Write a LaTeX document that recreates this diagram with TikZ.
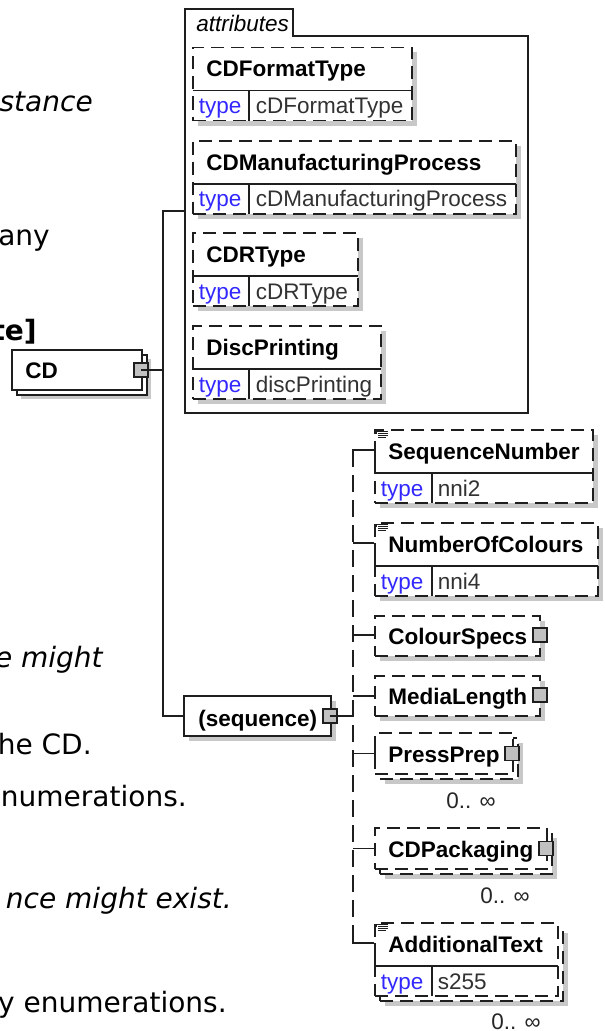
\documentclass[tikz,border=0pt]{standalone}
\usepackage{fontspec}
\setmainfont{Liberation Sans}
\newfontfamily\docfont{DejaVu Sans}
\usetikzlibrary{fit}
\definecolor{shadowgrey}{RGB}{200,200,200}
\definecolor{typeblue}{RGB}{50,40,255}
\definecolor{valgrey}{RGB}{50,50,50}
\definecolor{portgrey}{RGB}{192,192,192}
\definecolor{linecol}{RGB}{30,30,30}
\tikzset{
  conn/.style={draw=linecol, line width=1.3pt},
  dconn/.style={conn, dash pattern=on 12.75pt off 6pt},
  box/.style={draw=linecol, line width=1.3pt, fill=white, inner sep=0pt},
  optbox/.style={box, dash pattern=on 9.75pt off 5.25pt},
  elname/.style={font=\bfseries\fontsize{16.875pt}{20pt}\selectfont, anchor=base west, inner sep=0pt},
  tabsty/.style={font=\itshape\fontsize{16.875pt}{20pt}\selectfont, anchor=base west, inner sep=0pt},
  tlabel/.style={font=\fontsize{16.875pt}{20pt}\selectfont, text=typeblue, anchor=base west, inner sep=0pt},
  tval/.style={font=\fontsize{16.875pt}{20pt}\selectfont, text=valgrey, anchor=base west, inner sep=0pt},
  occ/.style={font=\fontsize{16.875pt}{20pt}\selectfont, text=black!85, anchor=base east, inner sep=0pt},
  doc/.style={font=\docfont\fontsize{21pt}{25pt}\selectfont, anchor=base east, inner sep=0pt},
  docit/.style={font=\docfont\itshape\fontsize{21pt}{25pt}\selectfont, anchor=base east, inner sep=0pt},
  docbf/.style={font=\docfont\bfseries\fontsize{21pt}{25pt}\selectfont, anchor=base east, inner sep=0pt},
  port/.style={draw=linecol, line width=0.9pt, fill=portgrey, inner sep=0pt},
  icon/.style={draw=linecol, line width=0.5pt},
}
% attribute box: id, top, right, name, value
\newcommand\mkattr[5]{%
  \fill[shadowgrey] (198,{#2+5}) rectangle ({#3+5},{#2+78});
  \node[optbox, fit={(193,#2) (#3,{#2+73})}] (#1) {};
  \draw[conn] (193,{#2+43}) -- (#3,{#2+43});
  \draw[conn] (249,{#2+43}) -- (249,{#2+73});
  \node[elname] (#1n) at (206,{#2+29.5}) {#4};
  \node[tlabel] (#1t) at (198.5,{#2+66}) {type};
  \node[tval] (#1v) at (255.5,{#2+66}) {#5};
}
% typed sequence element: id, top, right, name, value
\newcommand\mktyped[5]{%
  \fill[shadowgrey] (380,{#2+5}) rectangle ({#3+5},{#2+78});
  \node[optbox, fit={(375,#2) (#3,{#2+73})}] (#1) {};
  \draw[conn] (375,{#2+43}) -- (#3,{#2+43});
  \draw[conn] (432,{#2+43}) -- (432,{#2+73});
  \draw[conn] (375,{#2+20}) -- (375,{#2+43});
  \draw[icon] (376,{#2+1}) -- (376,{#2+4});
  \draw[icon] (376,{#2+1}) -- (388,{#2+1});
  \draw[icon] (378,{#2+3}) -- (388,{#2+3});
  \draw[icon] (378,{#2+5}) -- (388,{#2+5});
  \draw[icon] (378,{#2+7}) -- (386,{#2+7});
  \node[elname] (#1n) at (388,{#2+29.5}) {#4};
  \node[tlabel] (#1t) at (380.5,{#2+66}) {type};
  \node[tval] (#1v) at (437.5,{#2+66}) {#5};
}
% single element with children: id, top, right, name
\newcommand\mksingle[4]{%
  \fill[shadowgrey] (380,{#2+5}) rectangle ({#3+5},{#2+45});
  \node[optbox, fit={(375,#2) (#3,{#2+40})}] (#1) {};
  \draw[conn] (375,{#2+13}) -- (375,{#2+23});
  \node[elname] (#1n) at (388,{#2+28.5}) {#4};
  \node[port, fit={({#3-7},{#2+12}) ({#3+7},{#2+26})}] (#1p) {};
}
% repeated element with children: id, top, right, name
\newcommand\mkmulti[4]{%
  \fill[shadowgrey] (385,{#2+10}) rectangle ({#3+10},{#2+51});
  \node[optbox, fit={(380,{#2+5}) ({#3+5},{#2+46})}] (#1b) {};
  \node[optbox, fit={(375,#2) (#3,{#2+41})}] (#1) {};
  \draw[conn] (375,{#2+15}) -- (375,{#2+26});
  \node[elname] (#1n) at (388,{#2+29}) {#4};
  \node[port, fit={({#3-8},{#2+13.5}) ({#3+6},{#2+27.5})}] (#1p) {};
  \node[occ] (#1o) at ({#3-17},{#2+75.5}) {0.. ∞};
}
\begin{document}
\begin{tikzpicture}[x=0.75pt,y=-0.75pt]
\useasboundingbox (0,0) rectangle (604,1031);
\clip (0,0) rectangle (604,1031);
\fill[white] (0,0) rectangle (604,1031);

% cut-off document text on the left
\node[docit] (d1) at (93,111) {stance};
\node[doc] (d2) at (50,245) {any};
\node[docbf] (d3) at (37,340) {te]};
\node[docit] (d4) at (103,667) {e might};
\node[doc] (d5) at (92,754) {he CD.};
\node[doc] (d6) at (187,806) {numerations.};
\node[docit] (d7) at (232,908) {nce might exist.};
\node[doc] (d8) at (227,1012) {y enumerations.};

% attributes container
\draw[conn, fill=white] (185,413) -- (185,9) -- (293,9) -- (293,36) -- (528,36) -- (528,413) -- cycle;
\node[fit={(185,9) (528,413)}, inner sep=0pt] (attr) {};
\node[tabsty] (attrlbl) at (196,32) {attributes};
\mkattr{a1}{47.5}{412}{CDFormatType}{cDFormatType}
\mkattr{a2}{140.7}{516}{CDManufacturingProcess}{cDManufacturingProcess}
\mkattr{a3}{233}{358}{CDRType}{cDRType}
\mkattr{a4}{326}{381}{DiscPrinting}{discPrinting}

% CD element (repeated)
\fill[shadowgrey] (21,359) rectangle (151,399);
\node[box, fit={(17,355) (147,395)}] (cdb) {};
\node[box, fit={(12,350) (142,390)}] (cd) {};
\node[elname] (cdn) at (25,378) {CD};
\node[port, fit={(134,363) (148,377)}] (cdport) {};

% sequence compositor
\fill[shadowgrey] (189,701) rectangle (336,741);
\node[box, fit={(184,696) (331,736)}] (seq) {};
\node[elname] (seqn) at (198,726.5) {(sequence)};
\node[port, fit={(323,709) (337,723)}] (seqport) {};

% children of the sequence
\mktyped{sn}{430}{593}{SequenceNumber}{nni2}
\mktyped{noc}{523}{598}{NumberOfColours}{nni4}
\mksingle{cs}{616}{540}{ColourSpecs}
\mksingle{ml}{676}{540}{MediaLength}
\mkmulti{pp}{733}{513}{PressPrep}
\mkmulti{cdp}{828}{547}{CDPackaging}
% AdditionalText (repeated, typed)
\fill[shadowgrey] (385,933) rectangle (568,1006);
\node[optbox, fit={(380,928) (563,1001)}] (atb) {};
\node[optbox, fit={(375,923) (558,996)}] (at) {};
\draw[conn] (375,966) -- (558,966);
\draw[conn] (432,966) -- (432,996);
\draw[conn] (375,943) -- (375,966);
\draw[icon] (376,924) -- (376,927);
\draw[icon] (376,924) -- (388,924);
\draw[icon] (378,926) -- (388,926);
\draw[icon] (378,928) -- (388,928);
\draw[icon] (378,930) -- (386,930);
\node[elname] (atn) at (388,952.5) {AdditionalText};
\node[tlabel] (att) at (380.5,989) {type};
\node[tval] (atv) at (437.5,989) {s255};
\node[occ] (ato) at (541,1029) {0.. ∞};

% connectors of CD
\coordinate (jtop) at (163,211);
\coordinate (jcd) at (163,370);
\coordinate (jseq) at (163,716);
\draw[conn] (attr.west) -- (jtop) -- (jseq) -- (seq.west);
\draw[conn] (cdport.center) -- (jcd);

% sequence spine
\coordinate (sp1) at (353,450);
\coordinate (sp2) at (353,543);
\coordinate (sp3) at (353,635);
\coordinate (sp4) at (353,696);
\coordinate (sp5) at (353,753.5);
\coordinate (sp6) at (353,848.5);
\coordinate (sp7) at (353,943);
\coordinate (spm) at (353,716);
\draw[dconn] (sp1) -- (sp7);
\draw[conn] (seqport.center) -- (spm);
\draw[conn] (353,458) -- (sp1) -- (sp1 -| sn.west);
\draw[conn] (sp2) -- (sp2 -| noc.west);
\draw[conn] (sp3) -- (sp3 -| cs.west);
\draw[conn] (sp4) -- (sp4 -| ml.west);
\draw[conn] (sp5) -- (sp5 -| pp.west);
\draw[conn] (sp6) -- (sp6 -| cdp.west);
\draw[conn] (353,935) -- (sp7) -- (sp7 -| at.west);
\end{tikzpicture}
\end{document}
